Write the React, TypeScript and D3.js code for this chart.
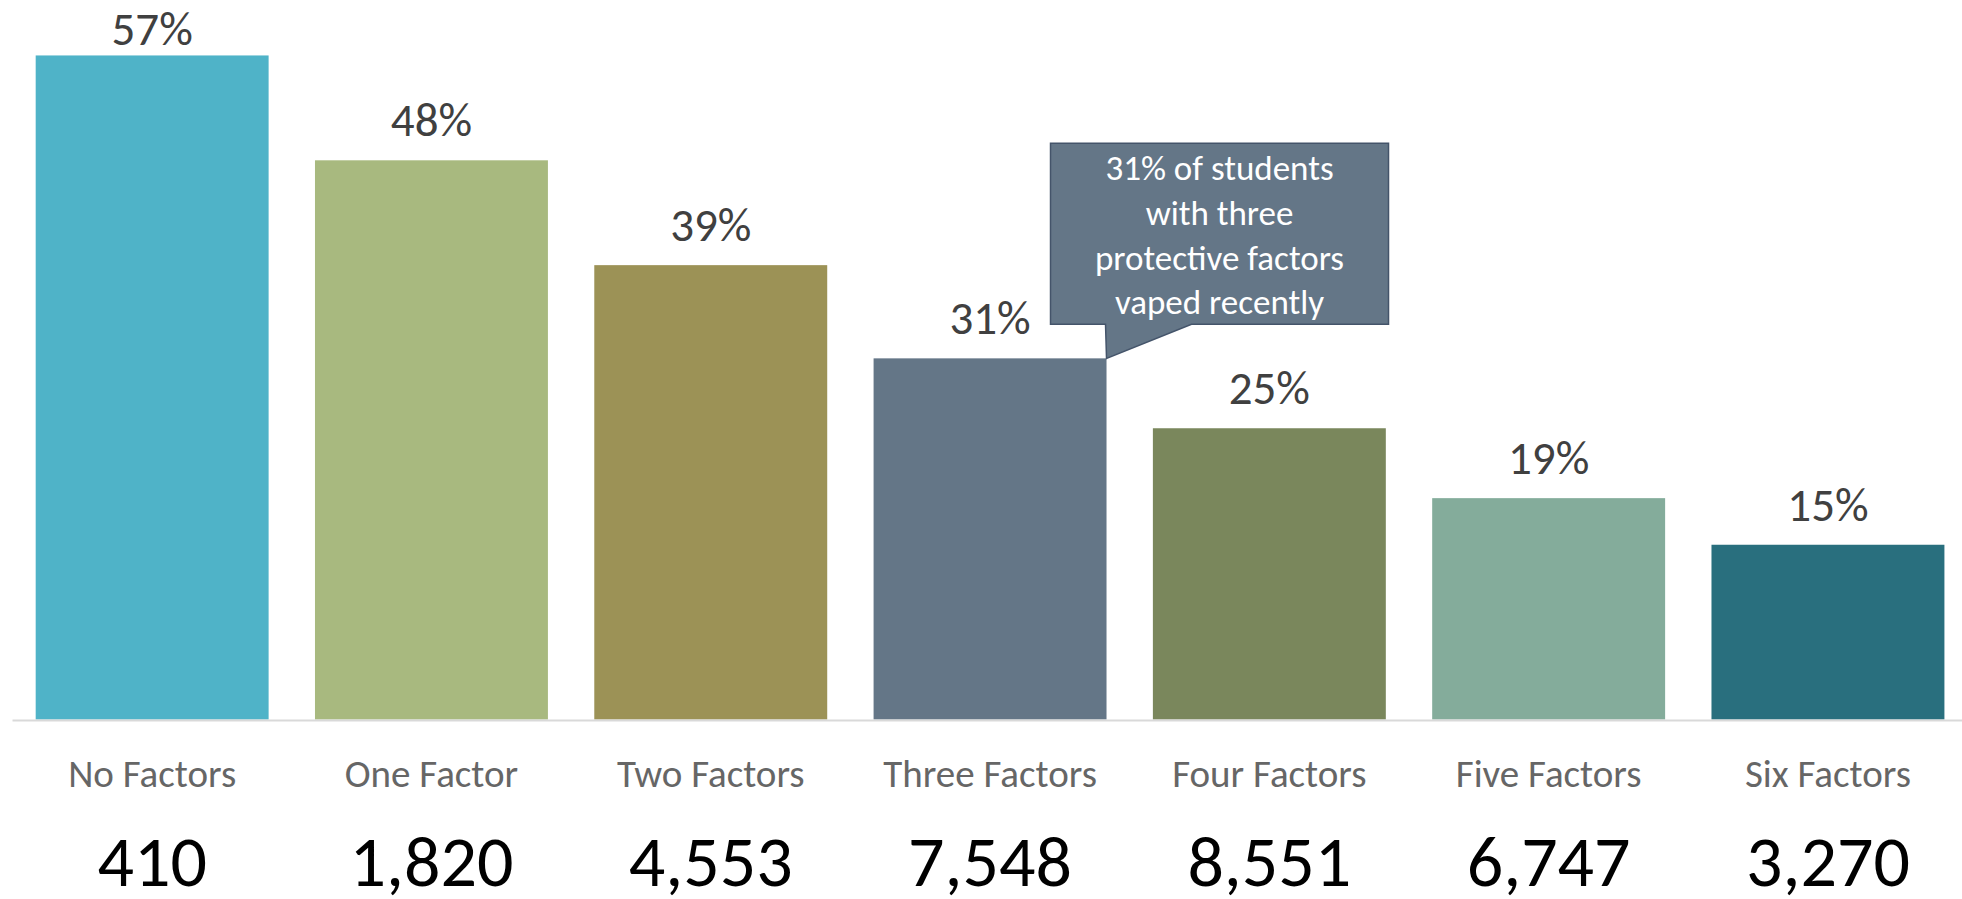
import React from "react";
import * as d3 from "d3";

const categories = ["No Factors", "One Factor", "Two Factors", "Three Factors", "Four Factors", "Five Factors", "Six Factors"];
const percents = [0.57, 0.48, 0.39, 0.31, 0.25, 0.19, 0.15];
const counts = [410, 1820, 4553, 7548, 8551, 6747, 3270];
const colors = ["#4FB3C8", "#A8B97F", "#9C9256", "#647687", "#7A875C", "#84AC9B", "#296F7E"];
const calloutIndex = 3;
const calloutLines = ["31% of students", "with three", "protective factors", "vaped recently"];

const W = 1962;
const H = 899;
const FONT = "Carlito, Calibri, Lato, sans-serif";

export default function App() {
  const x = d3.scaleBand<string>().domain(categories).range([12.5, 1967.6]).paddingInner(0.166).paddingOuter(0.083);
  const y = d3.scaleLinear().domain([0, 0.6]).range([719.5, 20.5]);
  const base = y(0);
  const pct = d3.format(".0%");
  const num = d3.format(",");

  const cx = x(categories[calloutIndex])! + x.bandwidth();
  const cy = y(percents[calloutIndex]);
  const boxL = cx - 56;
  const boxR = boxL + 338;
  const boxB = cy - 34;
  const boxT = boxB - 181;
  const calloutPath = `M${boxL},${boxT} L${boxR},${boxT} L${boxR},${boxB} L${cx + 85},${boxB} L${cx},${cy} L${cx - 1},${boxB} L${boxL},${boxB} Z`;
  const boxCx = (boxL + boxR) / 2;

  return (
    <svg width={W} height={H} style={{ position: "absolute", left: 0, top: 0, background: "#fff" }} fontFamily={FONT}>
      {categories.map((c, i) => {
        const bx = x(c)!;
        const by = y(percents[i]);
        const mid = bx + x.bandwidth() / 2;
        return (
          <g key={c}>
            <rect x={bx} y={by} width={x.bandwidth()} height={base - by} fill={colors[i]} />
            <text x={mid} y={Math.max(by - 24, 45)} textAnchor="middle" fontSize={47} fill="#404040">
              {pct(percents[i])}
            </text>
            <text x={mid} y={787} textAnchor="middle" fontSize={39} fontWeight={300} fill="#666666">
              {c}
            </text>
            <text x={mid} y={886} textAnchor="middle" fontSize={72} fill="#000">
              {num(counts[i])}
            </text>
          </g>
        );
      })}
      <line x1={12.5} x2={W} y1={base + 1} y2={base + 1} stroke="#D9D9D9" strokeWidth={2} />
      <path d={calloutPath} fill="#647687" stroke="#44546A" strokeWidth={1.5} />
      {calloutLines.map((l, i) => (
        <text key={l} x={boxCx} y={boxT + 37 + i * 44.7} textAnchor="middle" fontSize={35} fontWeight={300} fill="#fff">
          {l}
        </text>
      ))}
    </svg>
  );
}
